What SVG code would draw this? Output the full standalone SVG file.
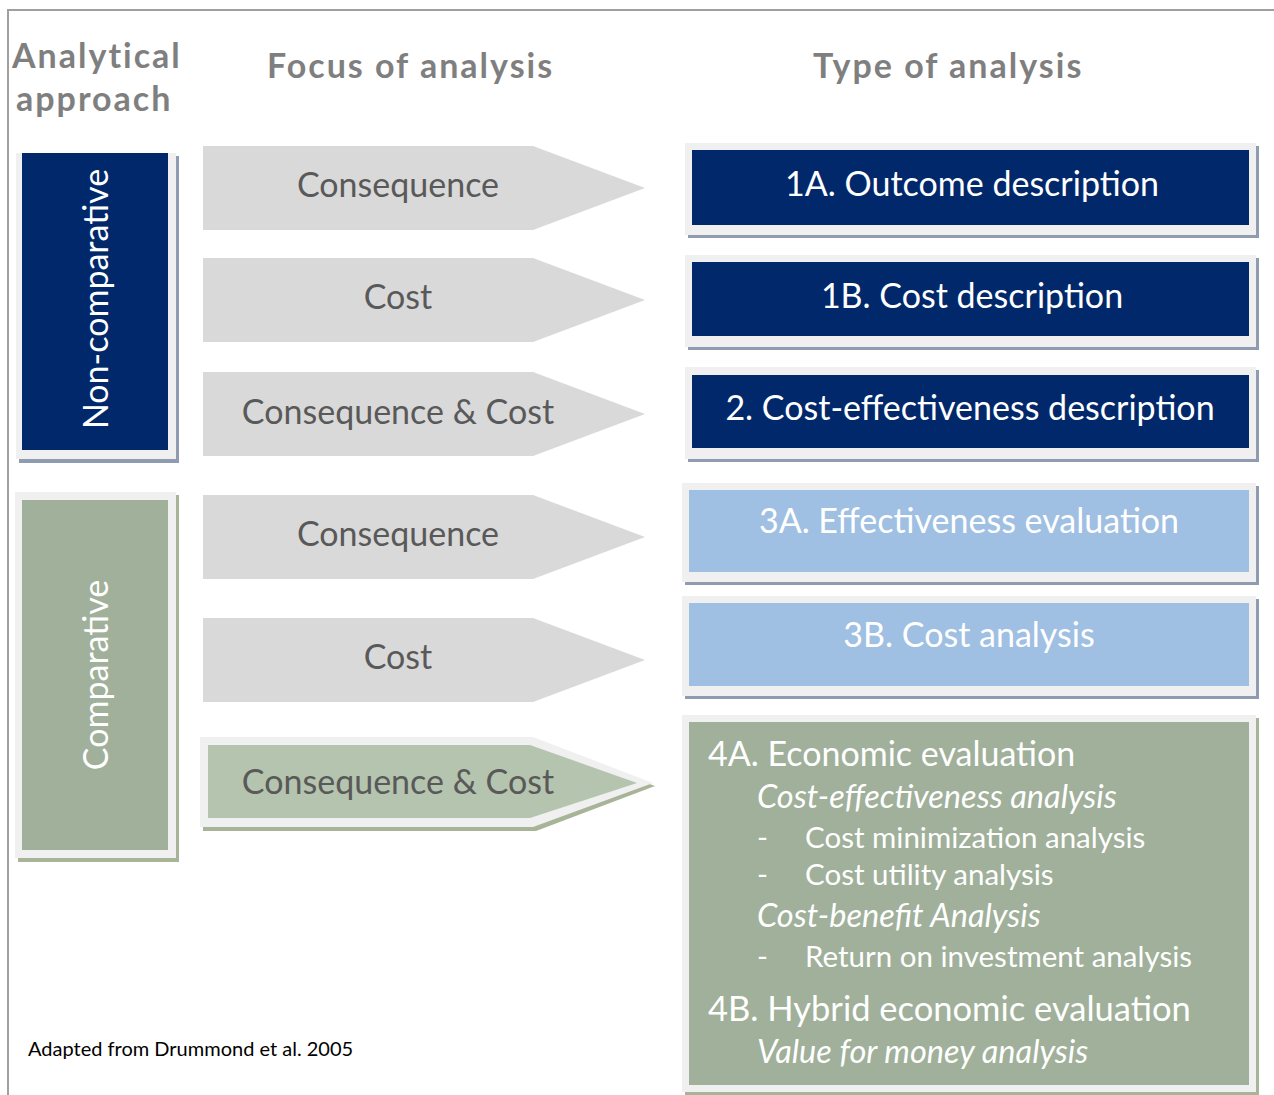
<svg xmlns="http://www.w3.org/2000/svg" width="1274" height="1095" viewBox="0 0 1274 1095">
<style>
.hd{font-family:Lato,"Open Sans",sans-serif;font-weight:bold;fill:#7f7f7f;font-size:34px;letter-spacing:2px}
.ar{font-family:Lato,"Open Sans",sans-serif;fill:#595959;font-size:34px;text-anchor:middle}
.wt{font-family:Lato,"Open Sans",sans-serif;fill:#ffffff}
.frame{fill:#f0f0f0}
.navy{fill:#00286a}
.blue{fill:#9fbfe3}
.green{fill:#a0b09a}
.shN{fill:#8f9bb0}
.shG{fill:#a8b498}
.arrow{fill:#d9d9d9}
</style>
<rect width="1274" height="1095" fill="#ffffff"/>
<g id="frame-lines" stroke="#a0a0a0" stroke-width="2" fill="none">
<path d="M8 1095 V10 H1274"/>
</g>
<g id="headers">
<text class="hd" x="12" y="68">Analytical</text>
<text class="hd" x="16" y="111">approach</text>
<text class="hd" x="267" y="78">Focus of analysis</text>
<text class="hd" x="813" y="78">Type of analysis</text>
</g>
<g id="non-comparative">
<rect class="shN" x="19" y="156" width="160" height="307"/>
<rect class="frame" x="16" y="153" width="160" height="306"/>
<rect class="navy" x="22" y="153" width="146" height="297"/>
<text class="wt" font-size="34" text-anchor="middle" transform="translate(108 299) rotate(-90)">Non-comparative</text>
</g>
<g id="comparative">
<rect class="shG" x="18" y="495" width="161" height="367"/>
<rect class="frame" x="15" y="492" width="161" height="366"/>
<rect class="green" x="22" y="500" width="146" height="350"/>
<text class="wt" font-size="34" text-anchor="middle" transform="translate(108 675) rotate(-90)">Comparative</text>
</g>
<g id="connectors">
<g id="arrow-1"><polygon class="arrow" points="203,146 533,146 645,188 533,230 203,230"/><text class="ar" x="398" y="197">Consequence</text></g>
<g id="arrow-2"><polygon class="arrow" points="203,258 533,258 645,300 533,342 203,342"/><text class="ar" x="398" y="309">Cost</text></g>
<g id="arrow-3"><polygon class="arrow" points="203,372 533,372 645,414 533,456 203,456"/><text class="ar" x="398" y="424">Consequence &amp; Cost</text></g>
<g id="arrow-4"><polygon class="arrow" points="203,495 533,495 645,537 533,579 203,579"/><text class="ar" x="398" y="546">Consequence</text></g>
<g id="arrow-5"><polygon class="arrow" points="203,618 533,618 645,660 533,702 203,702"/><text class="ar" x="398" y="669">Cost</text></g>
<g id="arrow-6">
<polygon class="shG" points="203,741 533,741 655,786 536,831 203,831"/>
<polygon class="frame" points="200,737 533,737 653,783 533,827 200,827"/>
<polygon fill="#b5c4ae" points="208,745 530,745 637,783 530,818 208,818"/>
<text class="ar" x="398" y="794">Consequence &amp; Cost</text>
</g>
</g>
<g id="box-1A">
<rect class="shN" x="688" y="146" width="571" height="92"/>
<rect class="frame" x="685" y="143" width="571" height="92"/>
<rect class="navy" x="692" y="150" width="557" height="75"/>
<text class="wt" font-size="34" text-anchor="middle" x="972" y="196">1A. Outcome description</text>
</g>
<g id="box-1B">
<rect class="shN" x="688" y="258" width="571" height="92"/>
<rect class="frame" x="685" y="255" width="571" height="92"/>
<rect class="navy" x="692" y="262" width="557" height="74"/>
<text class="wt" font-size="34" text-anchor="middle" x="972" y="308">1B. Cost description</text>
</g>
<g id="box-2">
<rect class="shN" x="688" y="370" width="571" height="92"/>
<rect class="frame" x="685" y="367" width="571" height="92"/>
<rect class="navy" x="692" y="375" width="557" height="73"/>
<text class="wt" font-size="34" text-anchor="middle" x="970" y="420">2. Cost-effectiveness description</text>
</g>
<g id="box-3A">
<rect class="shN" x="685" y="486" width="574" height="99"/>
<rect class="frame" x="682" y="483" width="574" height="99"/>
<rect class="blue" x="689" y="490" width="560" height="82"/>
<text class="wt" font-size="34" text-anchor="middle" x="969" y="533">3A. Effectiveness evaluation</text>
</g>
<g id="box-3B">
<rect class="shN" x="685" y="599" width="574" height="100"/>
<rect class="frame" x="682" y="596" width="574" height="100"/>
<rect class="blue" x="689" y="603" width="560" height="83"/>
<text class="wt" font-size="34" text-anchor="middle" x="969" y="647">3B. Cost analysis</text>
</g>
<g id="box-4">
<rect class="shG" x="685" y="718" width="574" height="377"/>
<rect class="frame" x="682" y="715" width="574" height="377"/>
<rect class="green" x="689" y="722" width="560" height="363"/>
<g class="wt">
<text x="708" y="766" font-size="34">4A. Economic evaluation</text>
<text x="757" y="808" font-size="32.5" font-style="italic">Cost-effectiveness analysis</text>
<text x="757" y="848" font-size="29.5">-</text>
<text x="805" y="848" font-size="29.5">Cost minimization analysis</text>
<text x="757" y="885" font-size="29.5">-</text>
<text x="805" y="885" font-size="29.5">Cost utility analysis</text>
<text x="757" y="927" font-size="32.5" font-style="italic">Cost-benefit Analysis</text>
<text x="757" y="967" font-size="29.5">-</text>
<text x="805" y="967" font-size="29.5">Return on investment analysis</text>
<text x="708" y="1021" font-size="34.5">4B. Hybrid economic evaluation</text>
<text x="757" y="1063" font-size="32.5" font-style="italic">Value for money analysis</text>
</g>
</g>
<g id="note">
<text x="28" y="1056" font-family="Lato,'Open Sans',sans-serif" font-size="20" fill="#000000">Adapted from Drummond et al. 2005</text>
</g>
</svg>
